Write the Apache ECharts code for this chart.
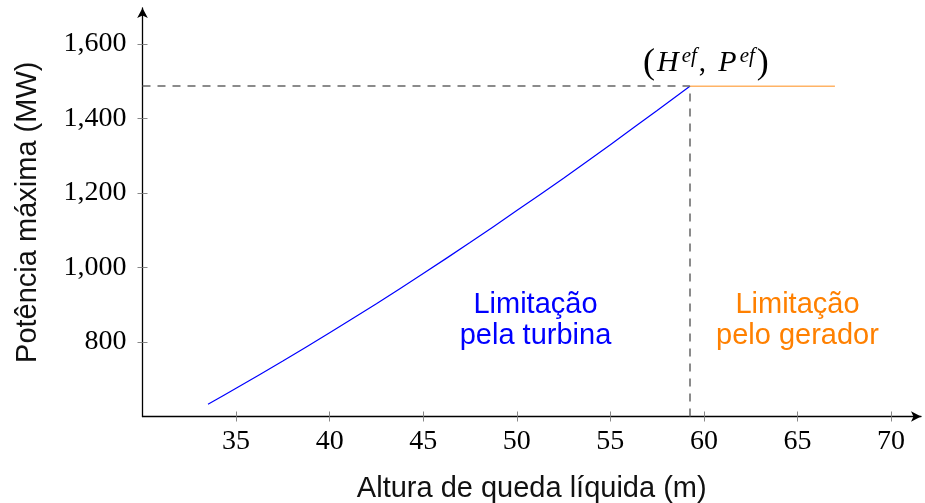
<!DOCTYPE html>
<html>
<head>
<meta charset="utf-8">
<script src="https://cdn.jsdelivr.net/npm/echarts@6/dist/echarts.min.js"></script>
<style>html,body{margin:0;padding:0;background:#fff;}#c{width:925px;height:503px;}</style>
</head>
<body>
<div id="c"></div>
<script>
// Data
const turbineH = [33.5, 35, 37.5, 40, 42.5, 45, 47.5, 50, 52.5, 55, 57.5, 59.25];
const turbineP = [633, 676, 749, 825, 903, 984, 1067, 1153, 1240, 1330, 1422, 1487];
const generatorH = [59.25, 67];
const generatorP = [1487, 1487];
const pointEf = [59.25, 1487];
const xTicks = [35, 40, 45, 50, 55, 60, 65, 70];
const yTicks = [800, 1000, 1200, 1400, 1600];
const xRange = [30, 71.6];
const yRange = [600, 1697];
const turbineLabel = 'Limitação\npela turbina';
const generatorLabel = 'Limitação\npelo gerador';
const turbineLabelPos = [51, 859];
const generatorLabelPos = [65, 859];

const serif = 'Liberation Serif';
const sans = 'Liberation Sans';

const chart = echarts.init(document.getElementById('c'), null, {renderer: 'canvas'});

function yLabel(v) { return Number(v).toLocaleString('en-US'); }

const tickLine = {color: '#888', width: 1};

chart.setOption({
  animation: false,
  backgroundColor: '#fff',
  grid: {left: 142.5, right: 4, top: 8, bottom: 86.5, containLabel: false, outerBoundsMode: 'none'},
  xAxis: [{
    type: 'value', min: xRange[0], max: xRange[1], interval: 5, position: 'bottom',
    name: 'Altura de queda líquida (m)', nameLocation: 'middle', nameGap: 58,
    nameTextStyle: {fontFamily: sans, fontSize: 29, color: '#111'},
    axisLine: {show: true, onZero: false, symbol: ['none', 'arrow'], symbolSize: [8, 10], lineStyle: {color: '#000', width: 1.3}},
    axisTick: {show: true, length: 5, lineStyle: tickLine, customValues: xTicks},
    axisLabel: {customValues: xTicks, fontFamily: serif, fontSize: 28, color: '#000', margin: 11},
    splitLine: {show: false}
  }, {
    type: 'value', min: xRange[0], max: xRange[1], interval: 5, position: 'bottom',
    axisLine: {show: false, onZero: false},
    axisTick: {show: true, inside: true, length: 5, lineStyle: tickLine, customValues: xTicks},
    axisLabel: {show: false}, splitLine: {show: false}
  }],
  yAxis: [{
    type: 'value', min: yRange[0], max: yRange[1], interval: 200, position: 'left',
    name: 'Potência máxima (MW)', nameLocation: 'middle', nameGap: 100,
    nameTextStyle: {fontFamily: sans, fontSize: 29, color: '#111'},
    axisLine: {show: true, onZero: false, symbol: ['none', 'arrow'], symbolSize: [8, 10], lineStyle: {color: '#000', width: 1.3}},
    axisTick: {show: true, length: 5, lineStyle: tickLine, customValues: yTicks},
    axisLabel: {customValues: yTicks, formatter: yLabel, fontFamily: serif, fontSize: 28, color: '#000', margin: 16},
    splitLine: {show: false}
  }, {
    type: 'value', min: yRange[0], max: yRange[1], interval: 200, position: 'left',
    axisLine: {show: false, onZero: false},
    axisTick: {show: true, inside: true, length: 5, lineStyle: tickLine, customValues: yTicks},
    axisLabel: {show: false}, splitLine: {show: false}
  }],
  series: [{
    type: 'line', xAxisIndex: 0, yAxisIndex: 0,
    data: turbineH.map((h, i) => [h, turbineP[i]]),
    showSymbol: false, smooth: 0.3,
    lineStyle: {color: '#0000ff', width: 1.2},
    z: 3,
    markLine: {
      silent: true, symbol: 'none', label: {show: false},
      lineStyle: {color: '#666', width: 1.5, type: [8, 7]},
      data: [
        [{coord: [xRange[0], pointEf[1]]}, {coord: [pointEf[0], pointEf[1]]}],
        [{coord: [pointEf[0], yRange[0]]}, {coord: [pointEf[0], pointEf[1]]}]
      ]
    },
    markPoint: {
      silent: true, symbol: 'circle', symbolSize: 0,
      data: [
        {coord: pointEf, label: {
          show: true, position: 'inside', offset: [16, -23],
          formatter: '{b|(}{i|H}{s|ef}{p|, }{i|P}{s|ef}{b|)}',
          rich: {
            b: {fontFamily: serif, fontSize: 36, color: '#000'},
            p: {fontFamily: serif, fontSize: 29, color: '#000', padding: [0, 3, 0, 0]},
            i: {fontFamily: serif, fontStyle: 'italic', fontSize: 30, color: '#000', padding: [0, 2, 0, 2]},
            s: {fontFamily: serif, fontStyle: 'italic', fontSize: 21, color: '#000', padding: [0, 2, 14, 1]}
          }
        }},
        {coord: turbineLabelPos, label: {
          show: true, position: 'inside', formatter: turbineLabel,
          fontFamily: sans, fontSize: 29, lineHeight: 31, color: '#0000ff', align: 'center'
        }},
        {coord: generatorLabelPos, label: {
          show: true, position: 'inside', formatter: generatorLabel,
          fontFamily: sans, fontSize: 29, lineHeight: 31, color: '#ff8000', align: 'center'
        }}
      ]
    }
  }, {
    type: 'line', xAxisIndex: 0, yAxisIndex: 0,
    data: generatorH.map((h, i) => [h, generatorP[i]]),
    showSymbol: false,
    lineStyle: {color: '#ffb366', width: 1.6},
    z: 4
  }]
});
</script>
</body>
</html>
